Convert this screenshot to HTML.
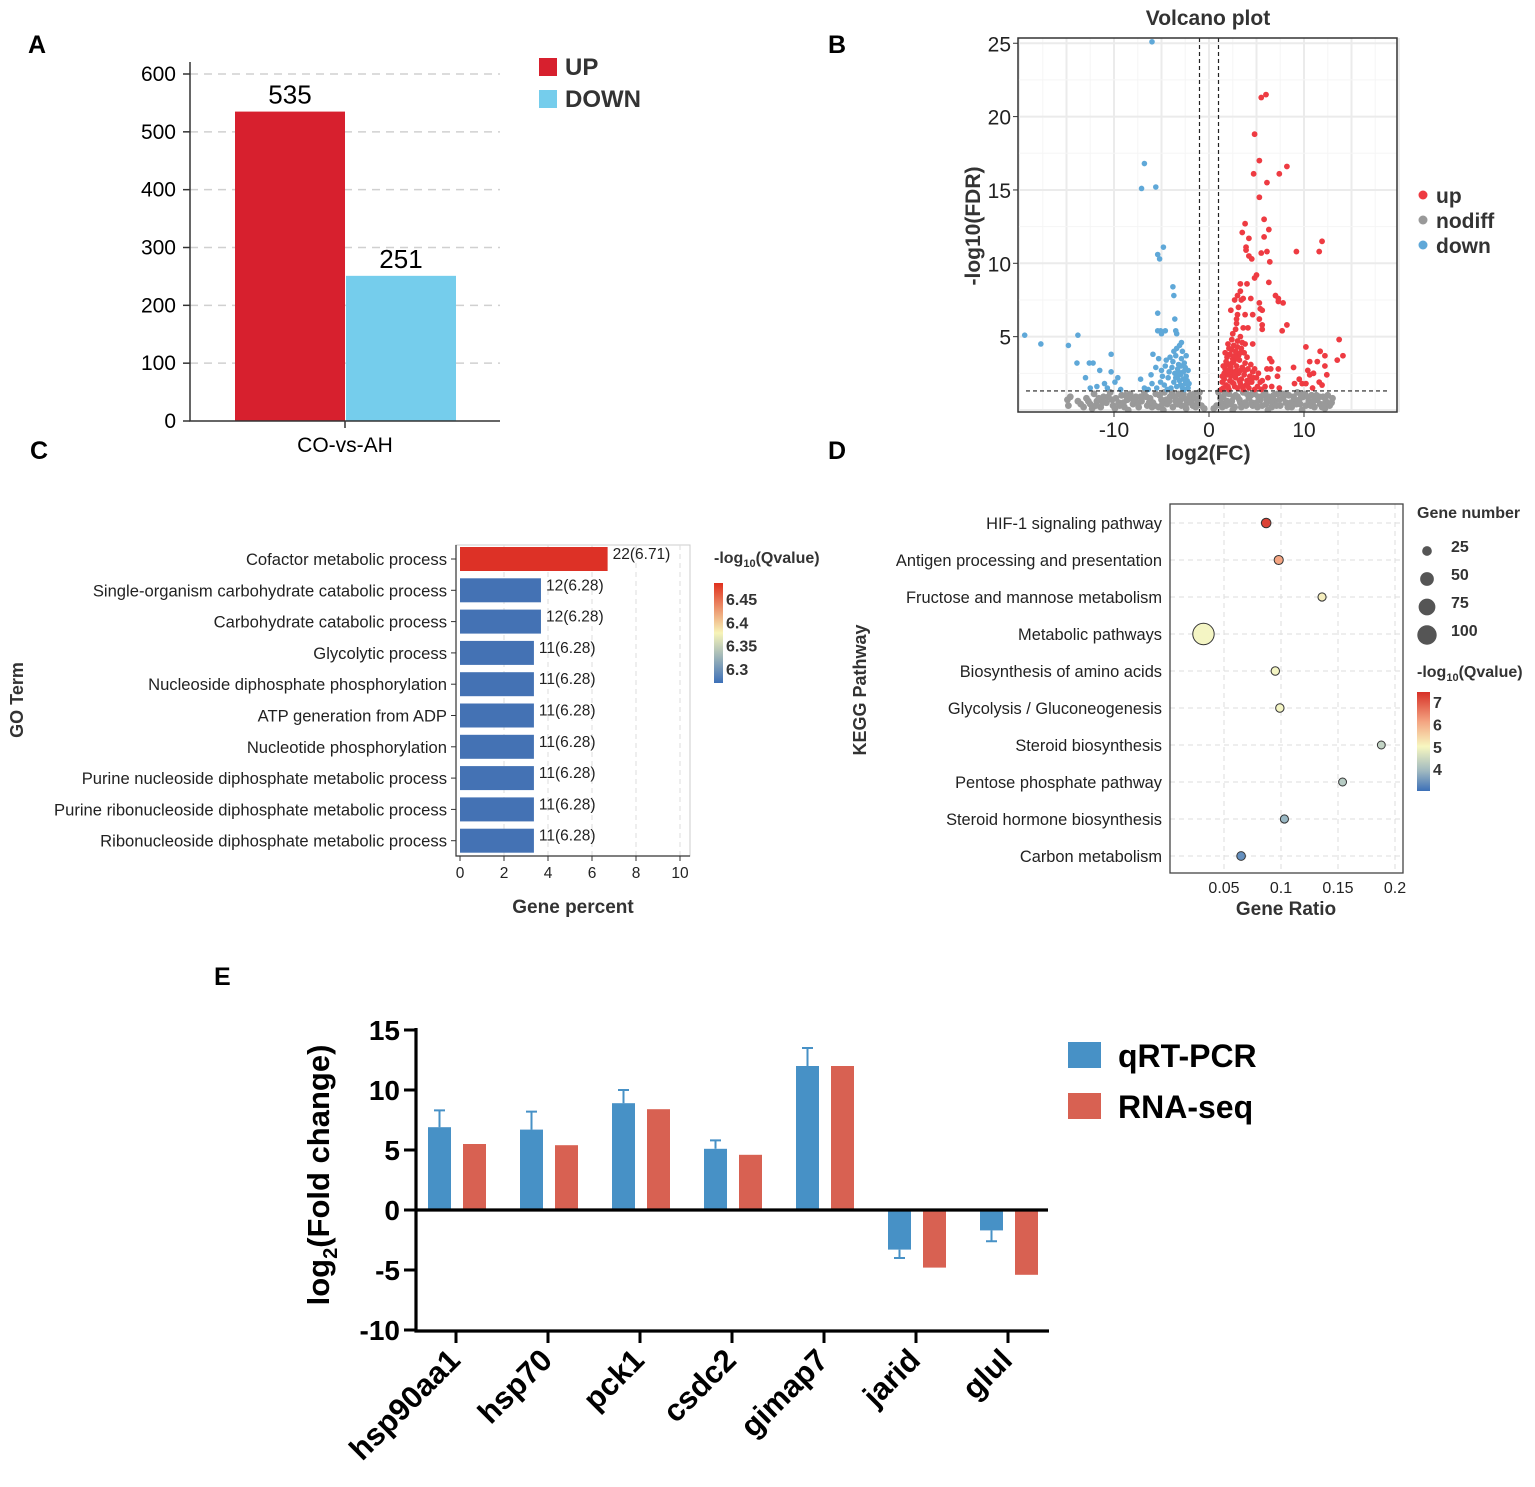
<!DOCTYPE html>
<html><head><meta charset="utf-8"><style>
body{margin:0;background:#fff}
svg{display:block;font-family:"Liberation Sans",sans-serif}
</style></head><body>
<svg id="fig" width="1535" height="1487" viewBox="0 0 1535 1487" xmlns="http://www.w3.org/2000/svg">
<defs>
<linearGradient id="gC" x1="0" y1="0" x2="0" y2="1"><stop offset="0" stop-color="#e0301e"/><stop offset="0.5" stop-color="#f7f4b8"/><stop offset="1" stop-color="#3d70b8"/></linearGradient>
<linearGradient id="gD" x1="0" y1="0" x2="0" y2="1"><stop offset="0" stop-color="#d73027"/><stop offset="0.3" stop-color="#f4a582"/><stop offset="0.55" stop-color="#f7f7c0"/><stop offset="0.8" stop-color="#9fb8c0"/><stop offset="1" stop-color="#3d70b8"/></linearGradient>
<clipPath id="clipB"><rect x="1018" y="38" width="379" height="374"/></clipPath>
</defs>
<g font-weight="bold" font-size="25">
<text x="28" y="53">A</text>
<text x="828" y="53">B</text>
<text x="30" y="459">C</text>
<text x="828" y="459">D</text>
<text x="214" y="985">E</text>
</g>
<g id="pA"></g>
<g id="pB"></g>
<g id="pC"></g>
<g id="pD"></g>
<g id="pE"></g>
</svg>
<script>
// ---------- Panel A data ----------
const aCats = ["UP","DOWN"];
const aVals = [535, 251];
const aTicks = [0,100,200,300,400,500,600];
// ---------- Panel B data ----------
const bUp = [[5.5,21.3],[6,21.5],[4.8,18.8],[5.3,17],[4.7,16.1],[7.4,16.1],[8.2,16.6],[6.1,15.5],[5.3,14.5],[5.8,13],[3.8,12.7],[6.3,12.3],[3.5,12.1],[4.2,11.7],[5.8,11.8],[3.9,11.1],[3.9,10.9],[5.5,10.7],[6.1,10.8],[4.2,10.5],[4.5,10.3],[6.4,10.1],[9.2,10.8],[11.6,10.8],[11.9,11.5],[5.0,9.2],[4.8,9.0],[6.3,8.7],[3.3,8.6],[4,8.6],[3.3,8.1],[3,7.8],[3.6,7.6],[4.4,7.6],[3.4,7.5],[7,7.8],[7.3,7.6],[7.3,7.4],[7.8,7.3],[2.7,7.5],[3.1,7],[5.3,7.3],[5.4,6.9],[5.6,6.8],[2.3,6.8],[3,6.5],[3.8,6.5],[4.6,6.5],[5.3,6.2],[2.9,6.2],[2.9,5.9],[5.6,5.8],[3.6,5.6],[4.1,5.6],[2.8,5.5],[5.6,5.5],[8.2,5.8],[7.7,5.4],[2.5,5.2],[3.3,5.0],[4.6,4.5],[2.4,4.8],[2.0,4.5],[3.0,4.7],[3.8,4.5],[13.7,4.8],[10.2,4.3],[11.7,4.0],[12.2,3.7],[14.1,3.7],[13.5,3.4],[10.6,3.3],[11.4,3.3],[12.2,3.0],[8.9,2.9],[10.4,2.7],[12.4,2.4],[10.6,2.4],[11.0,2.5],[9.5,2.1],[9.0,1.8],[9.8,1.8],[10.2,1.8],[11.6,1.9],[11.9,1.7],[10.9,1.5],[6.4,3.5],[6.6,3.3],[6.5,2.8],[7.3,2.8],[6.1,2.8],[6.2,2.2],[7.2,2.3],[6.6,1.6],[7.4,1.5],
[1.5,1.5],[1.8,1.7],[2.1,1.4],[2.4,1.9],[2.7,1.6],[3.0,1.5],[3.3,1.8],[3.6,1.4],[3.9,1.7],[4.2,1.5],[4.5,1.9],[4.8,1.4],[5.1,1.6],[1.6,2.1],[1.9,2.4],[2.2,2.0],[2.5,2.6],[2.8,2.2],[3.1,2.5],[3.4,2.1],[3.7,2.4],[4.0,2.0],[4.3,2.3],[4.6,2.6],[5.0,2.2],[5.4,1.9],[1.7,2.8],[2.0,3.1],[2.3,2.9],[2.6,3.3],[2.9,3.0],[3.2,3.4],[3.5,2.9],[3.8,3.2],[4.1,2.8],[4.4,3.1],[1.9,3.6],[2.2,3.8],[2.5,3.5],[2.8,4.0],[3.1,3.7],[3.4,4.2],[3.7,3.9],[4.0,3.6],[2.1,4.2],[2.6,4.4],[3.0,4.3],[3.5,4.6],[1.4,1.9],[1.3,1.4],[2.0,1.6],[2.3,2.3],[2.6,1.8],[2.9,2.7],[3.2,2.0],[3.5,1.6],[3.8,2.7],[4.1,1.8],[4.4,2.0],[4.7,2.2],[1.6,2.5],[2.4,3.2],[2.7,2.5],[3.0,3.5],[3.3,2.7],[1.8,3.3],[2.2,2.6],[4.8,2.8],[5.2,2.5],[5.6,2.0],[5.9,1.6],[5.5,1.4],[2.7,3.7],[2.4,4.1],[3.3,3.9],[1.5,3.0],[1.7,3.9],[2.0,2.7],[1.4,2.3]];
const bDown = [[-6,25.1],[-6.8,16.8],[-7.1,15.1],[-5.6,15.2],[-4.8,11.1],[-5.4,10.6],[-5.2,10.3],[-3.8,8.4],[-3.7,7.8],[-5.4,6.6],[-3.6,6.2],[-5.4,5.4],[-5.1,5.4],[-4.6,5.4],[-3.5,5.4],[-3.4,5.2],[-5.0,5.2],[-19.4,5.1],[-17.7,4.5],[-14.8,4.4],[-13.8,5.1],[-10.3,3.8],[-13.9,3.2],[-12.6,3.2],[-12.2,3.2],[-11.5,2.7],[-10.3,2.6],[-13.0,2.2],[-9.6,2.2],[-9.9,1.9],[-11.0,1.8],[-11.8,1.6],[-12.5,1.5],[-10.7,1.5],[-9.3,1.4],[-7.2,2.1],[-6.8,1.5],
[-2.2,1.5],[-2.5,1.8],[-2.8,1.5],[-3.1,2.0],[-3.4,1.6],[-3.7,1.9],[-4.0,1.5],[-4.3,2.2],[-4.7,1.7],[-5.1,1.9],[-5.5,1.5],[-6.0,1.8],[-2.4,2.3],[-2.7,2.6],[-3.0,2.4],[-3.3,2.8],[-3.6,2.5],[-3.9,2.9],[-4.2,2.6],[-4.6,3.0],[-5.0,2.7],[-5.6,2.9],[-6.1,2.4],[-2.6,3.2],[-2.9,3.5],[-3.2,3.1],[-3.5,3.7],[-3.8,3.3],[-4.1,3.6],[-4.5,3.4],[-5.3,3.5],[-5.9,3.8],[-2.8,4.0],[-3.1,4.4],[-3.4,4.2],[-2.9,4.6],[-3.7,4.0],[-2.3,2.0],[-2.6,1.4],[-3.0,1.7],[-3.5,2.2],[-4.4,1.4],[-4.9,2.3],[-6.4,1.4],[-2.5,2.9],[-3.2,2.6],[-2.1,1.8],[-2.4,3.7],[-2.2,2.7],[-2.7,2.1],[-3.3,2.3],[-2.9,3.0]];
const bGrey = [[-14.8,0.3],[-14.6,0.9],[-13.8,0.6],[-13.2,0.2],[-12.9,0.8],[-12.5,0.4],[-12.1,1.1],[-11.8,0.6],[-11.4,0.2],[-11.1,0.9],[-10.8,0.5],[-10.4,1.2],[-10.1,0.3],[-9.8,0.8],[-9.5,0.5],[-9.2,1.0],[-8.9,0.2],[-8.6,0.7],[-8.3,1.1],[-8.0,0.4],[-7.7,0.9],[-7.4,0.2],[-7.1,0.6],[-6.8,1.2],[-6.5,0.3],[-6.2,0.8],[-5.9,0.5],[-5.6,1.1],[-5.3,0.2],[-5.0,0.7],[-4.7,1.2],[-4.4,0.4],[-4.1,0.9],[-3.8,0.2],[-3.5,0.6],[-3.2,1.1],[-2.9,0.3],[-2.6,0.8],[-2.3,0.5],[-2.0,1.0],[-1.7,0.3],[-1.5,0.8],[-1.2,0.5],[-1.0,1.2],[-0.8,0.3],[-0.5,0.1],[0.5,0.1],[0.8,0.3],[1.0,1.2],[1.3,0.5],[1.5,0.9],[1.8,0.3],[2.1,1.1],[2.4,0.6],[2.7,0.2],[3.0,0.9],[3.3,0.5],[3.6,1.2],[3.9,0.3],[4.2,0.8],[4.5,0.5],[4.8,1.1],[5.1,0.2],[5.4,0.7],[5.7,1.0],[6.0,0.4],[6.3,0.9],[6.6,0.2],[6.9,0.6],[7.2,1.1],[7.5,0.3],[7.8,0.8],[8.1,0.5],[8.4,1.0],[8.7,0.2],[9.0,0.7],[9.3,1.2],[9.6,0.4],[9.9,0.9],[10.2,0.3],[10.5,0.6],[10.8,1.0],[11.1,0.2],[11.4,0.7],[11.7,0.4],[12.0,0.9],[12.3,0.6],[12.7,0.3],[12.5,1.0],[12.9,0.5],
[-13.5,0.4],[-12.3,0.1],[-11.6,0.8],[-10.6,0.9],[-9.9,0.1],[-9.0,0.5],[-8.2,0.8],[-7.5,0.5],[-6.6,0.9],[-6.0,0.2],[-5.2,1.0],[-4.5,0.7],[-3.9,1.2],[-3.3,0.4],[-2.7,1.1],[-2.1,0.7],[-1.6,1.1],[-1.1,0.8],[1.2,0.8],[1.7,1.2],[2.2,0.4],[2.8,1.0],[3.4,0.2],[4.0,1.1],[4.6,0.3],[5.2,0.9],[5.9,1.2],[6.5,0.6],[7.1,0.3],[7.7,1.1],[8.3,0.2],[8.9,0.9],[9.5,0.7],[10.1,1.1],[10.7,0.3],[11.3,1.0],[11.9,0.2],[-14.9,0.7],[-8.5,0.0],[-4.8,0.0],[-2.4,0.1],[2.5,0.0],[6.2,0.0],[9.8,0.0],[13.0,0.8],[12.2,0.1],
[-12.7,0.6],[-11.9,0.3],[-11.2,0.5],[-10.2,0.7],[-9.4,0.3],[-8.8,1.0],[-7.9,0.7],[-7.2,0.9],[-6.3,0.5],[-5.7,0.3],[-4.9,0.4],[-4.2,0.6],[-3.6,0.9],[-3.0,0.7],[-2.5,0.3],[-1.9,0.5],[-1.4,0.2],[1.4,0.2],[1.9,0.6],[2.6,0.9],[3.2,0.7],[3.8,0.5],[4.4,1.0],[5.0,0.5],[5.6,0.3],[6.1,0.7],[6.8,1.0],[7.4,0.7],[8.0,1.1],[8.6,0.5],[9.2,0.4],[9.7,1.0],[10.4,0.9],[11.0,0.6],[11.6,0.9],[12.1,0.4]];
const bXTicks = [-10,0,10];
const bYTicks = [5,10,15,20,25];
// ---------- Panel C data ----------
const cTerms = ["Cofactor metabolic process","Single-organism carbohydrate catabolic process","Carbohydrate catabolic process","Glycolytic process","Nucleoside diphosphate phosphorylation","ATP generation from ADP","Nucleotide phosphorylation","Purine nucleoside diphosphate metabolic process","Purine ribonucleoside diphosphate metabolic process","Ribonucleoside diphosphate metabolic process"];
const cPercent = [6.71,3.68,3.68,3.36,3.36,3.36,3.36,3.36,3.36,3.36];
const cLabels = ["22(6.71)","12(6.28)","12(6.28)","11(6.28)","11(6.28)","11(6.28)","11(6.28)","11(6.28)","11(6.28)","11(6.28)"];
const cQ = [6.71,6.28,6.28,6.28,6.28,6.28,6.28,6.28,6.28,6.28];
const cXTicks = [0,2,4,6,8,10];
const cCbTicks = [6.45,6.4,6.35,6.3];
// ---------- Panel D data ----------
const dPath = ["HIF-1 signaling pathway","Antigen processing and presentation","Fructose and mannose metabolism","Metabolic pathways","Biosynthesis of amino acids","Glycolysis / Gluconeogenesis","Steroid biosynthesis","Pentose phosphate pathway","Steroid hormone biosynthesis","Carbon metabolism"];
const dRatio = [0.087,0.098,0.136,0.032,0.095,0.099,0.188,0.154,0.103,0.065];
const dCount = [22,20,16,110,17,17,15,15,16,18];
const dQ = [7.1,6.0,5.1,5.0,5.0,5.0,4.5,4.4,4.1,3.5];
const dXTicks = [0.05,0.1,0.15,0.2];
const dSizeLegend = [25,50,75,100];
const dCbTicks = [7,6,5,4];
// ---------- Panel E data ----------
const eGenes = ["hsp90aa1","hsp70","pck1","csdc2","gimap7","jarid","glul"];
const eQpcr = [6.9,6.7,8.9,5.1,12.0,-3.3,-1.7];
const eQpcrErr = [1.4,1.5,1.1,0.7,1.5,0.7,0.9];
const eRnaseq = [5.5,5.4,8.4,4.6,12.0,-4.8,-5.4];
const eYTicks = [-10,-5,0,5,10,15];

const NS="http://www.w3.org/2000/svg";
function mk(parent,tag,attrs,text){const e=document.createElementNS(NS,tag);for(const k in attrs)e.setAttribute(k,attrs[k]);if(text!==undefined)e.textContent=text;parent.appendChild(e);return e;}

// ===== Panel A =====
(function(){
const g=document.getElementById('pA');
const y=v=>421-v*(347/600);
aTicks.forEach(t=>{
 if(t>0){const l=mk(g,'line',{x1:190,x2:500,y1:y(t),y2:y(t),stroke:'#d0d0d0','stroke-dasharray':'8,6','stroke-width':1.5});
 
 }
 const tk=mk(g,'line',{x1:183,x2:190,y1:y(t),y2:y(t),stroke:'#333','stroke-width':1.5});
 
 
 const tx=mk(g,'text',{x:176,y:y(t)+7,'text-anchor':'end','font-size':21},String(t));
 
 
});
const cols=['#d7202e','#75cdec'];
aVals.forEach((v,i)=>{
 const x=235+i*111;
 const r=mk(g,'rect',{x:x,y:y(v),width:110,height:421-y(v),fill:cols[i]});
 
 
 const t=mk(g,'text',{x:x+55,y:y(v)-8,'text-anchor':'middle','font-size':26},String(v));
 
 
 const lr=mk(g,'rect',{x:539,y:58+i*32,width:18,height:18,fill:cols[i]});
 
 
 const lt=mk(g,'text',{x:565,y:75+i*32,'font-size':24,'font-weight':'bold',fill:'#333'},aCats[i]);
 
 
});
const ax=mk(g,'path',{d:'M190,62 V421 H500 M345,421 V428',stroke:'#333','stroke-width':1.5,fill:'none'});


const xl=mk(g,'text',{x:345,y:452,'text-anchor':'middle','font-size':21},'CO-vs-AH');


})();

// ===== Panel B =====
(function(){
const g=document.getElementById('pB');
const x=v=>1209+v*9.5, y=v=>410-v*14.67;
for(let v=-20;v<=20;v+=2.5){const l=mk(g,'line',{x1:x(v),x2:x(v),y1:38,y2:412,stroke:v%5===0?'#ebebeb':'#f5f5f5','stroke-width':v%5===0?2:1});
 
 }
for(let v=0;v<=25;v+=2.5){const l=mk(g,'line',{x1:1018,x2:1397,y1:y(v),y2:y(v),stroke:v%5===0?'#ebebeb':'#f5f5f5','stroke-width':v%5===0?2:1});
 
 }
const pts=mk(g,'g',{'clip-path':'url(#clipB)'});


[[bGrey,'#999999','nodiff',3.4],[bDown,'#5fa8d8','down',2.8],[bUp,'#ee3b42','up',2.9]].forEach(([arr,c,n,rad])=>{
 arr.forEach(p=>{const d=mk(pts,'circle',{cx:x(p[0]),cy:y(p[1]),r:rad,fill:c});
 
 });
});
[-1,1].forEach(v=>{const l=mk(g,'line',{x1:x(v),x2:x(v),y1:38,y2:412,stroke:'#222','stroke-width':1.2,'stroke-dasharray':'4,3'});
 
 });
const hl=mk(g,'line',{x1:1026,x2:1390,y1:y(1.3),y2:y(1.3),stroke:'#222','stroke-width':1.2,'stroke-dasharray':'4,3'});


const bx=mk(g,'rect',{x:1018,y:38,width:379,height:374,fill:'none',stroke:'#333','stroke-width':1.5});


bXTicks.forEach(t=>{const tk=mk(g,'line',{x1:x(t),x2:x(t),y1:412,y2:417,stroke:'#333'});
 
 
 const tx=mk(g,'text',{x:x(t),y:437,'text-anchor':'middle','font-size':21,fill:'#222'},String(t));
 
 });
bYTicks.forEach(t=>{const tk=mk(g,'line',{x1:1013,x2:1018,y1:y(t),y2:y(t),stroke:'#333'});
 
 
 const tx=mk(g,'text',{x:1011,y:y(t)+8,'text-anchor':'end','font-size':21,fill:'#222'},String(t));
 
 });
const ti=mk(g,'text',{x:1208,y:25,'text-anchor':'middle','font-size':21,'font-weight':'bold',fill:'#333'},'Volcano plot');


const xt=mk(g,'text',{x:1208,y:460,'text-anchor':'middle','font-size':21,'font-weight':'bold',fill:'#333'},'log2(FC)');


const yt=mk(g,'text',{x:0,y:0,transform:'translate(980,226) rotate(-90)','text-anchor':'middle','font-size':21,'font-weight':'bold',fill:'#333'},'-log10(FDR)');


[['up','#ee3b42'],['nodiff','#999999'],['down','#5fa8d8']].forEach((l,i)=>{
 const c=mk(g,'circle',{cx:1423,cy:195+i*25,r:4.5,fill:l[1]});
 
 
 const t=mk(g,'text',{x:1436,y:203+i*25,'font-size':21,'font-weight':'bold',fill:'#333'},l[0]);
 
 });
})();

// ===== Panel C =====
(function(){
const g=document.getElementById('pC');
const x=v=>460+v*22, rowY=i=>559+i*31.3;
const bx=mk(g,'rect',{x:456,y:545,width:234,height:311,fill:'none',stroke:'#ccc','stroke-width':1});


cXTicks.forEach(t=>{
 if(t>0){const l=mk(g,'line',{x1:x(t),x2:x(t),y1:545,y2:856,stroke:'#ddd','stroke-dasharray':'5,4'});
 
 }
 const tk=mk(g,'line',{x1:x(t),x2:x(t),y1:856,y2:861,stroke:'#333'});
 
 
 const tx=mk(g,'text',{x:x(t),y:878,'text-anchor':'middle','font-size':15.5,fill:'#222'},String(t));
 
 });
const col=q=>q>6.5?'#dd3126':'#4472b4';
cTerms.forEach((t,i)=>{
 const cy=rowY(i);
 const r=mk(g,'rect',{x:460,y:cy-12,width:x(cPercent[i])-460,height:24,fill:col(cQ[i])});
 
 
 const v=mk(g,'text',{x:x(cPercent[i])+5,y:cy,'font-size':15.5,fill:'#222'},cLabels[i]);
 
 
 const tk=mk(g,'line',{x1:451,x2:456,y1:cy,y2:cy,stroke:'#333'});
 
 
 const lb=mk(g,'text',{x:447,y:cy+6,'text-anchor':'end','font-size':16.6,fill:'#222'},t);
 
 });
const ax=mk(g,'path',{d:'M456,545 V856 H690',stroke:'#333','stroke-width':1.2,fill:'none'});


const xt=mk(g,'text',{x:573,y:913,'text-anchor':'middle','font-size':19,'font-weight':'bold',fill:'#333'},'Gene percent');


const yt=mk(g,'text',{x:0,y:0,transform:'translate(23,700) rotate(-90)','text-anchor':'middle','font-size':18,'font-weight':'bold',fill:'#333'},'GO Term');


const ct=mk(g,'text',{x:714,y:563,'font-size':16,'font-weight':'bold',fill:'#333'});


ct.innerHTML='-log<tspan font-size="11" dy="4">10</tspan><tspan dy="-4">(Qvalue)</tspan>';
const cb=mk(g,'rect',{x:714,y:583,width:9,height:100,fill:'url(#gC)'});


const cy=v=>599+(6.45-v)/0.05*23.3;
cCbTicks.forEach(t=>{const tx=mk(g,'text',{x:726,y:cy(t)+6,'font-size':16,'font-weight':'bold',fill:'#333'},String(t));
 
 });
})();

// ===== Panel D =====
(function(){
const g=document.getElementById('pD');
const x=v=>1167+v*1140, rowY=i=>523+i*37;
const rr=n=>Math.sqrt(n)*1.02;
function qc(q){const s=[[3.05,[61,112,184]],[4,[143,177,196]],[5,[244,245,196]],[6,[244,165,130]],[7.3,[215,48,39]]];
 for(let i=0;i<s.length-1;i++){if(q<=s[i+1][0]){const f=Math.max(0,(q-s[i][0])/(s[i+1][0]-s[i][0]));const c=s[i][1].map((a,k)=>Math.round(a+(s[i+1][1][k]-a)*f));return 'rgb('+c.join(',')+')';}}
 return 'rgb(215,48,39)';}
dXTicks.forEach(t=>{const l=mk(g,'line',{x1:x(t),x2:x(t),y1:504,y2:873,stroke:'#ddd','stroke-dasharray':'5,4'});
 
 
 const tx=mk(g,'text',{x:x(t),y:893,'text-anchor':'middle','font-size':16,fill:'#222'},String(t));
 
 });
dPath.forEach((p,i)=>{
 const cy=rowY(i);
 const l=mk(g,'line',{x1:1170,x2:1403,y1:cy,y2:cy,stroke:'#ddd','stroke-dasharray':'5,4'});
 
 
 const lb=mk(g,'text',{x:1162,y:cy+6,'text-anchor':'end','font-size':16.4,fill:'#222'},p);
 
 });
dPath.forEach((p,i)=>{
 const c=mk(g,'circle',{cx:x(dRatio[i]),cy:rowY(i),r:rr(dCount[i]),fill:qc(dQ[i]),stroke:'#333','stroke-width':1});
 
 });
const bx=mk(g,'rect',{x:1170,y:504,width:233,height:369,fill:'none',stroke:'#444','stroke-width':1.3});


const xt=mk(g,'text',{x:1286,y:915,'text-anchor':'middle','font-size':19,'font-weight':'bold',fill:'#333'},'Gene Ratio');


const yt=mk(g,'text',{x:0,y:0,transform:'translate(866,690) rotate(-90)','text-anchor':'middle','font-size':18,'font-weight':'bold',fill:'#333'},'KEGG Pathway');


const st=mk(g,'text',{x:1417,y:518,'font-size':16,'font-weight':'bold',fill:'#333'},'Gene number');


dSizeLegend.forEach((n,i)=>{
 const c=mk(g,'circle',{cx:1427,cy:551+i*28,r:rr(n)*0.95,fill:'#555'});
 
 
 const t=mk(g,'text',{x:1451,y:552+i*28,'font-size':16,'font-weight':'bold',fill:'#333'},String(n));
 
 });
const ct=mk(g,'text',{x:1417,y:677,'font-size':16,'font-weight':'bold',fill:'#333'});


ct.innerHTML='-log<tspan font-size="11" dy="4">10</tspan><tspan dy="-4">(Qvalue)</tspan>';
const cb=mk(g,'rect',{x:1417,y:692,width:13,height:99,fill:'url(#gD)'});


dCbTicks.forEach(t=>{const yy=702+(7-t)*22.4;
 const tx=mk(g,'text',{x:1433,y:yy+6,'font-size':16,'font-weight':'bold',fill:'#333'},String(t));
 
 });
})();

// ===== Panel E =====
(function(){
const g=document.getElementById('pE');
const y=v=>1210-v*12, cx=i=>456+i*92;
eYTicks.forEach(t=>{
 const tk=mk(g,'line',{x1:404,x2:416,y1:y(t),y2:y(t),stroke:'#000','stroke-width':3});
 
 
 const tx=mk(g,'text',{x:400,y:y(t)+10,'text-anchor':'end','font-size':28,'font-weight':'bold'},String(t));
 
 });
eGenes.forEach((gn,i)=>{
 const bxl=cx(i)-28, rxl=cx(i)+7;
 const v=eQpcr[i], r=eRnaseq[i];
 const b=mk(g,'rect',{x:bxl,y:Math.min(y(v),y(0)),width:23,height:Math.abs(y(v)-y(0)),fill:'#4791c6'});
 
 
 const ee=v+Math.sign(v)*eQpcrErr[i];
 const e=mk(g,'path',{d:'M'+(bxl+11.5)+','+y(v)+' V'+y(ee)+' M'+(bxl+6)+','+y(ee)+' H'+(bxl+17),stroke:'#4791c6','stroke-width':2,fill:'none'});
 
 
 const rb=mk(g,'rect',{x:rxl,y:Math.min(y(r),y(0)),width:23,height:Math.abs(y(r)-y(0)),fill:'#d86152'});
 
 
 const tk=mk(g,'line',{x1:cx(i),x2:cx(i),y1:1330,y2:1343,stroke:'#000','stroke-width':3});
 
 
 const lb=mk(g,'text',{x:0,y:0,transform:'translate('+(cx(i)+6)+',1362) rotate(-45)','text-anchor':'end','font-size':31,'font-weight':'bold'},gn);
 
 });
const ax=mk(g,'path',{d:'M416,1028 V1331 H1049 M416,1210 H1048',stroke:'#000','stroke-width':3.2,fill:'none'});


const yt=mk(g,'text',{x:0,y:0,transform:'translate(329,1175) rotate(-90)','text-anchor':'middle','font-size':31,'font-weight':'bold'});


yt.innerHTML='log<tspan font-size="20" dy="8">2</tspan><tspan dy="-8">(Fold change)</tspan>';
[['qRT-PCR','#4791c6'],['RNA-seq','#d86152']].forEach((l,i)=>{
 const r=mk(g,'rect',{x:1068,y:1042+i*51,width:33,height:26,fill:l[1]});
 
 
 const t=mk(g,'text',{x:1118,y:1067+i*51,'font-size':32,'font-weight':'bold'},l[0]);
 
 });
})();
</script>
</body></html>
